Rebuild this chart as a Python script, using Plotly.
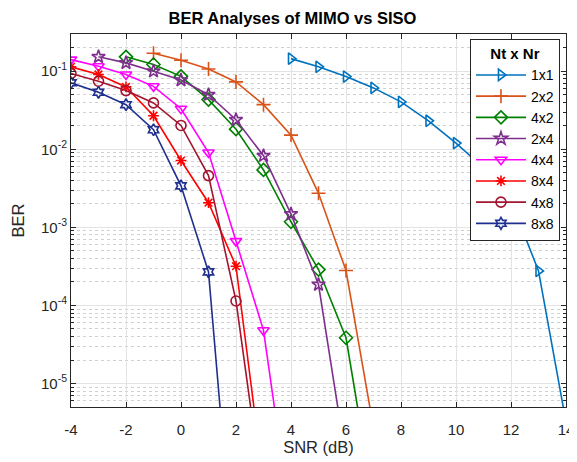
import plotly.graph_objects as go

snr_1x1 = [4, 5, 6, 7, 8, 9, 10, 11, 12, 13, 14]
ber_1x1 = [0.145, 0.114, 0.0855, 0.0612, 0.0405, 0.0232, 0.012, 0.0058, 0.0022, 2.77e-4, 3.2e-6]

snr_2x2 = [-1, 0, 1, 2, 3, 4, 5, 6, 7]
ber_2x2 = [0.17, 0.138, 0.107, 0.073, 0.0373, 0.0152, 2.73e-3, 2.8e-4, 2.7e-6]

snr_4x2 = [-2, -1, 0, 1, 2, 3, 4, 5, 6, 7]
ber_4x2 = [0.153, 0.122, 0.086, 0.0433, 0.0181, 0.00544, 1.18e-3, 2.88e-4, 3.85e-5, 3e-7]

snr_2x4 = [-3, -2, -1, 0, 1, 2, 3, 4, 5, 6]
ber_2x4 = [0.153, 0.128, 0.1, 0.077, 0.05, 0.0239, 0.00826, 1.48e-3, 1.85e-4, 1.07e-6]

snr_4x4 = [-4, -3, -2, -1, 0, 1, 2, 3, 4]
ber_4x4 = [0.141, 0.116, 0.0907, 0.0641, 0.0331, 0.0091, 6.67e-4, 4.8e-5, 1.6e-7]

snr_8x4 = [-4, -3, -2, -1, 0, 1, 2, 3]
ber_8x4 = [0.114, 0.091, 0.063, 0.0269, 7.18e-3, 2.07e-3, 3.18e-4, 5.4e-7]

snr_4x8 = [-4, -3, -2, -1, 0, 1, 2, 3]
ber_4x8 = [0.0935, 0.0744, 0.0565, 0.0393, 0.0202, 4.6e-3, 1.14e-4, 3.2e-7]

snr_8x8 = [-4, -3, -2, -1, 0, 1, 2]
ber_8x8 = [0.071, 0.0537, 0.0373, 0.0178, 3.4e-3, 2.69e-4, 2e-8]

series = [
    ("1x1", snr_1x1, ber_1x1, "#0072BD", "triangle-right-open", 10),
    ("2x2", snr_2x2, ber_2x2, "#D95319", "cross-thin-open", 10),
    ("4x2", snr_4x2, ber_4x2, "#008000", "diamond-open", 10),
    ("2x4", snr_2x4, ber_2x4, "#7E2F8E", "star-open", 10),
    ("4x4", snr_4x4, ber_4x4, "#FF00FF", "triangle-down-open", 10),
    ("8x4", snr_8x4, ber_8x4, "#FF0000", "asterisk-open", 9),
    ("4x8", snr_4x8, ber_4x8, "#A2142F", "circle-open", 10),
    ("8x8", snr_8x8, ber_8x8, "#1F2F8F", "hexagram-open", 9),
]

x_ticks = [-4, -2, 0, 2, 4, 6, 8, 10, 12, 14]
x_tick_text = ["-4", "-2", "0", "2", "4", "6", "8", "10", "12", "14"]
y_ticks = [1e-5, 1e-4, 1e-3, 1e-2, 1e-1]
y_tick_text = ["10<sup>-5</sup>", "10<sup>-4</sup>", "10<sup>-3</sup>", "10<sup>-2</sup>", "10<sup>-1</sup>"]

FONT = "Liberation Sans, Arial"

fig = go.Figure()
for name, x, y, color, sym, size in series:
    fig.add_trace(go.Scatter(
        x=x, y=y, name=name, mode="lines+markers",
        line=dict(color=color, width=1.6),
        marker=dict(symbol=sym, size=size, color=color, line=dict(color=color, width=1.6)),
    ))

axis_common = dict(
    showline=True, linecolor="#262626", linewidth=1, mirror="ticks",
    ticks="inside", ticklen=5, tickcolor="#262626",
    tickfont=dict(family=FONT, size=15, color="#262626"),
    showgrid=True, gridcolor="#E3E3E3", gridwidth=1.2, zeroline=False,
    automargin=False,
)

fig.update_xaxes(
    range=[-4, 14], tickvals=x_ticks, ticktext=x_tick_text, ticklabelstandoff=9,
    title=dict(text="SNR (dB)", font=dict(family=FONT, size=16.5, color="#262626"), standoff=4),
    **axis_common,
)
fig.update_yaxes(
    type="log", range=[-5.301, -0.523], tickvals=y_ticks, ticktext=y_tick_text,
    title=dict(text="BER", font=dict(family=FONT, size=16.5, color="#262626"), standoff=12),
    minor=dict(ticks="inside", ticklen=3, tickcolor="#262626", showgrid=True,
               gridcolor="#D0D0D0", griddash="dot", gridwidth=1, dtick="D1"),
    **axis_common,
)

# legend title separator
fig.add_shape(type="line", xref="paper", yref="paper",
              x0=0.806, x1=0.988, y0=0.917, y1=0.917,
              line=dict(color="#262626", width=1), layer="above")

fig.update_layout(
    width=569, height=454,
    margin=dict(l=63, r=11, t=26, b=55),
    paper_bgcolor="white", plot_bgcolor="white",
    title=dict(text="<b>BER Analyses of MIMO vs SISO</b>", x=0.5, xanchor="center",
               y=0.978, yanchor="middle", automargin=False,
               font=dict(family=FONT, size=16.5, color="black")),
    showlegend=True,
    legend=dict(
        x=0.806, y=0.987, xanchor="left", yanchor="top",
        bgcolor="white", bordercolor="#262626", borderwidth=1,
        font=dict(family=FONT, size=14, color="black"),
        title=dict(text="<b>Nt x Nr</b>", side="top center",
                   font=dict(family=FONT, size=15, color="black")),
        itemwidth=50, tracegroupgap=0,
    ),
)

fig.write_html("out.html")
